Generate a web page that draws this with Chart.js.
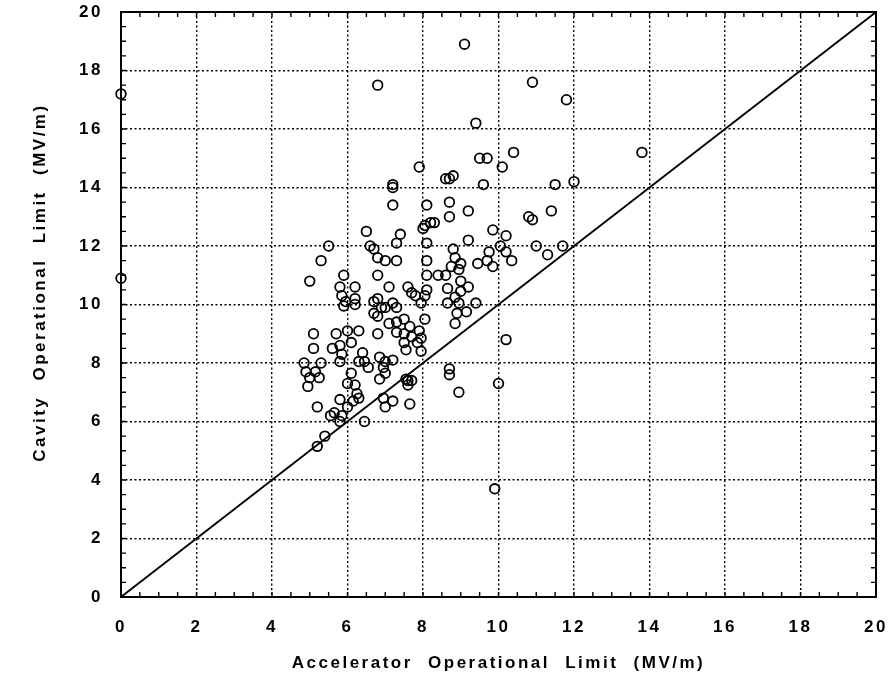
<!DOCTYPE html>
<html>
<head>
<meta charset="utf-8">
<title>Cavity vs Accelerator Operational Limit</title>
<script src="https://cdn.jsdelivr.net/npm/chart.js@4.4.0/dist/chart.umd.min.js"></script>
<style>
  html, body { margin: 0; padding: 0; background: #fff; }
  #wrap { width: 890px; height: 681px; }
</style>
</head>
<body>
<div id="wrap"><canvas id="myChart" width="890" height="681"></canvas></div>
<script>
// accelerator limit (x) and cavity limit (y), MV/m, one entry per cavity
var accelLimit = [
  0, 0, 9.1, 6.8, 10.9, 11.8, 9.4, 9.5, 9.7, 10.4, 13.8, 7.9, 10.1, 8.6, 8.7, 8.8, 9.6, 11.5, 12.0, 7.2, 7.2, 16.4,
  7.2, 8.1, 8.7, 8.7, 6.5, 7.4, 7.3, 8.0, 8.05, 8.2, 8.3, 5.5, 5.3, 5.0, 6.6, 6.7, 6.8, 7.0, 7.3, 6.8, 8.1, 8.1, 8.1, 8.4, 5.9,
  5.8, 5.85, 5.95, 5.9, 6.2, 6.2, 6.2,
  7.1, 7.6, 7.7, 7.8, 8.1, 8.05, 7.95,
  6.7, 6.8, 6.9, 7.0, 7.2, 7.3, 6.7, 6.8,
  7.1, 7.3, 7.3,
  7.5, 7.65, 7.5, 7.7, 7.9, 7.95, 7.5, 7.85, 8.05, 7.95, 7.55,
  6.8, 5.1, 5.1, 5.7, 6.0, 6.3,
  6.1, 5.8, 5.6, 5.85, 5.8,
  6.4, 6.3, 6.45, 6.55,
  4.85, 5.3, 4.9, 5.15, 5.25, 5.0, 4.95,
  6.85, 7.0, 6.95, 7.0, 6.85, 7.2,
  6.1, 6.0, 6.2, 6.25, 6.3, 6.15,
  5.8, 6.0, 5.65, 5.85, 5.55, 5.2, 5.8, 6.45,
  6.95, 7.2, 7.0, 7.65,
  7.55, 7.6, 7.7, 7.6,
  5.4, 5.2,
  9.2, 10.8, 10.9, 11.4, 9.85, 10.2, 10.05, 9.2,
  8.8, 8.85, 9.0, 8.75, 9.75, 10.2, 9.7, 10.35, 9.85, 9.45,
  11.0, 11.3, 11.7,
  8.6, 8.95, 9.0, 9.2, 8.65, 9.0, 8.85,
  8.65, 8.95, 9.4, 8.9, 9.15, 8.85,
  10.2, 10.0, 8.7, 8.7, 8.95, 9.9
];
var cavityLimit = [
  17.2, 10.9, 18.9, 17.5, 17.6, 17.0, 16.2, 15.0, 15.0, 15.2, 15.2, 14.7, 14.7, 14.3, 14.3, 14.4, 14.1, 14.1, 14.2, 14.1, 14.0, 20.5,
  13.4, 13.4, 13.5, 13.0, 12.5, 12.4, 12.1, 12.6, 12.7, 12.8, 12.8, 12.0, 11.5, 10.8, 12.0, 11.9, 11.6, 11.5, 11.5, 11.0, 12.1, 11.5, 11.0, 11.0, 11.0,
  10.6, 10.3, 10.1, 9.95, 10.6, 10.2, 10.0,
  10.6, 10.6, 10.4, 10.3, 10.5, 10.3, 10.05,
  10.1, 10.2, 9.9, 9.9, 10.05, 9.9, 9.7, 9.6,
  9.35, 9.4, 9.05,
  9.5, 9.25, 9.0, 8.9, 9.1, 8.85, 8.7, 8.7, 9.5, 8.4, 8.45,
  9.0, 9.0, 8.5, 9.0, 9.1, 9.1,
  8.7, 8.6, 8.5, 8.3, 8.05,
  8.35, 8.05, 8.05, 7.85,
  8.0, 8.0, 7.7, 7.7, 7.5, 7.5, 7.2,
  8.2, 8.05, 7.85, 7.65, 7.45, 8.1,
  7.65, 7.3, 7.25, 6.95, 6.8, 6.7,
  6.75, 6.5, 6.3, 6.2, 6.2, 6.5, 6.0, 6.0,
  6.8, 6.7, 6.5, 6.6,
  7.45, 7.4, 7.4, 7.25,
  5.5, 5.15,
  13.2, 13.0, 12.9, 13.2, 12.55, 12.35, 12.0, 12.2,
  11.9, 11.6, 11.4, 11.3, 11.8, 11.8, 11.5, 11.5, 11.3, 11.4,
  12.0, 11.7, 12.0,
  11.0, 11.2, 10.8, 10.6, 10.55, 10.45, 10.25,
  10.05, 10.05, 10.05, 9.7, 9.75, 9.35,
  8.8, 7.3, 7.8, 7.6, 7.0, 3.7
];

// equal-limit reference line
var diagX = [0, 20];
var diagY = [0, 20];

var axisMin = 0;
var axisMax = 20;
var majorStep = 2;
var minorStep = 0.5;

var xTitle = 'Accelerator Operational Limit (MV/m)';
var yTitle = 'Cavity Operational Limit (MV/m)';
var yTitleAt = 10.75; // value on the y scale where the rotated title is centred

var points = accelLimit.map(function (v, i) {
  return { x: v, y: cavityLimit[i] };
});
var diagonal = diagX.map(function (v, i) {
  return { x: v, y: diagY[i] };
});

// Frame around the plot plus small inward ticks on all four sides
var frameTicks = {
  id: 'frameTicks',
  afterDatasetsDraw: function (chart) {
    var ctx = chart.ctx;
    var a = chart.chartArea;
    var xs = chart.scales.x;
    var ys = chart.scales.y;
    ctx.save();
    ctx.strokeStyle = '#000';
    ctx.lineWidth = 1.4;
    ctx.beginPath();
    for (var v = axisMin; v <= axisMax; v += minorStep) {
      var px = xs.getPixelForValue(v);
      ctx.moveTo(px, a.bottom); ctx.lineTo(px, a.bottom - 5);
      ctx.moveTo(px, a.top); ctx.lineTo(px, a.top + 5);
      var py = ys.getPixelForValue(v);
      ctx.moveTo(a.left, py); ctx.lineTo(a.left + 5, py);
      ctx.moveTo(a.right, py); ctx.lineTo(a.right - 5, py);
    }
    ctx.stroke();
    ctx.lineWidth = 2;
    ctx.strokeRect(a.left, a.top, a.right - a.left, a.bottom - a.top);
    ctx.restore();
  }
};

// wide letter spacing for the axis text, and the rotated y title
var spacedText = {
  id: 'spacedText',
  beforeDraw: function (chart) {
    chart.ctx.letterSpacing = '2.5px';
    chart.ctx.wordSpacing = '8px';
  },
  afterDraw: function (chart) {
    var ctx = chart.ctx;
    ctx.save();
    ctx.translate(40, chart.scales.y.getPixelForValue(yTitleAt));
    ctx.rotate(-Math.PI / 2);
    ctx.fillStyle = '#000';
    ctx.font = 'bold 17px "Liberation Sans"';
    ctx.textAlign = 'center';
    ctx.textBaseline = 'middle';
    ctx.fillText(yTitle, 0, 0);
    ctx.restore();
    ctx.letterSpacing = '0px';
    ctx.wordSpacing = '0px';
  }
};

var ctx = document.getElementById('myChart').getContext('2d');
var myChart = new Chart(ctx, {
  type: 'scatter',
  data: {
    datasets: [{
      label: 'Cavities',
      data: points,
      showLine: false,
      pointStyle: 'circle',
      pointRadius: 4.8,
      pointBorderWidth: 1.8,
      pointBackgroundColor: 'rgba(0,0,0,0)',
      pointBorderColor: '#000',
      clip: false
    }, {
      label: 'y = x',
      type: 'line',
      data: diagonal,
      borderColor: '#000',
      borderWidth: 1.8,
      pointRadius: 0,
      fill: false
    }]
  },
  options: {
    responsive: false,
    animation: false,
    devicePixelRatio: 1,
    layout: { padding: { left: 0, right: 14, top: 12, bottom: 0 } },
    plugins: {
      legend: { display: false },
      tooltip: { enabled: false }
    },
    scales: {
      x: {
        type: 'linear',
        min: axisMin,
        max: axisMax,
        afterFit: function (s) {
          s.height = 84;
          s.paddingLeft = 0;
          s.paddingRight = 0;
        },
        ticks: {
          stepSize: majorStep,
          padding: 20,
          color: '#000',
          font: { family: 'Liberation Sans', size: 17, weight: 'bold' }
        },
        grid: { color: '#000', lineWidth: 1.4, drawTicks: false },
        border: { display: false, dash: [2, 2.5] },
        title: {
          display: true,
          text: xTitle,
          color: '#000',
          padding: { top: 0, bottom: 7 },
          font: { family: 'Liberation Sans', size: 17, weight: 'bold' }
        }
      },
      y: {
        type: 'linear',
        min: axisMin,
        max: axisMax,
        afterFit: function (s) {
          s.width = 121;
          s.paddingTop = 0;
          s.paddingBottom = 0;
        },
        ticks: {
          stepSize: majorStep,
          padding: 18,
          color: '#000',
          font: { family: 'Liberation Sans', size: 17, weight: 'bold' }
        },
        grid: { color: '#000', lineWidth: 1.4, drawTicks: false },
        border: { display: false, dash: [2, 2.5] },
        title: { display: false }
      }
    }
  },
  plugins: [frameTicks, spacedText]
});
</script>
</body>
</html>
